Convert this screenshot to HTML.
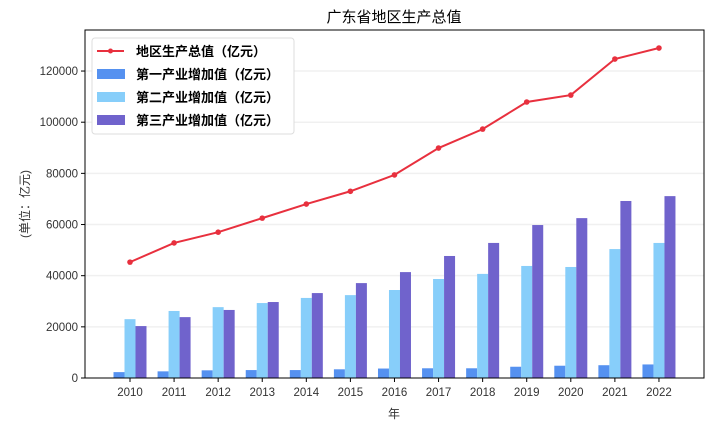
<!DOCTYPE html>
<html><head><meta charset="utf-8"><style>
body{margin:0;background:#fff;}
text{font-family:"Liberation Sans","Noto Sans CJK SC",sans-serif;}
</style></head><body>
<svg id="chart" width="714" height="433" xmlns="http://www.w3.org/2000/svg"></svg>
<script>
const years=[2010,2011,2012,2013,2014,2015,2016,2017,2018,2019,2020,2021,2022];
const gdp=[45300,52800,57000,62500,68000,73000,79400,89900,97300,107900,110600,124700,129000];
const primary=[2300,2600,3000,3100,3100,3400,3700,3800,3800,4400,4800,5000,5300];
const secondary=[23000,26200,27700,29300,31300,32400,34400,38700,40700,43800,43400,50400,52800];
const tertiary=[20300,23800,26600,29700,33200,37100,41400,47700,52800,59800,62500,69200,71100];
const yTicks=[0,20000,40000,60000,80000,100000,120000];
const NS="http://www.w3.org/2000/svg";
const svg=document.getElementById('chart');
const L=85,R=704,T=30,B=378;
const x=i=>130+i*44.08;
const y=v=>378-v*0.002558;
function mk(tag,a,txt){const e=document.createElementNS(NS,tag);for(const k in a)e.setAttribute(k,a[k]);if(txt!==undefined)e.textContent=txt;svg.appendChild(e);return e;}
yTicks.forEach(v=>{
 if(v>0){const g=mk('line',{x1:L,x2:R,y1:y(v),y2:y(v),stroke:'#f0f0f0','stroke-width':1.5});
 
 }
 const t=mk('line',{x1:L-4,x2:L,y1:y(v),y2:y(v),stroke:'#000'});
 
 
 const l=mk('text',{x:L-7,y:y(v)+4,'text-anchor':'end','font-size':11.5,fill:'#333'},v);
 
 
});
const series=[[primary,'#5591f0',-11],[secondary,'#87cefa',0],[tertiary,'#7063cc',11]];
years.forEach((yr,i)=>{
 series.forEach(([arr,c,off],k)=>{
  const b=mk('rect',{x:x(i)+off-5.5,y:y(arr[i]),width:11,height:B-y(arr[i]),fill:c});
  
  
 });
 const t=mk('line',{x1:x(i),x2:x(i),y1:B,y2:B+4,stroke:'#000'});
 
 
 const l=mk('text',{x:x(i),y:B+18,'text-anchor':'middle','font-size':11.5,fill:'#333'},yr);
 
 
});
const ln=mk('polyline',{points:gdp.map((v,i)=>x(i)+','+y(v)).join(' '),fill:'none',stroke:'#e8303e','stroke-width':2});


gdp.forEach((v,i)=>{const c=mk('circle',{cx:x(i),cy:y(v),r:2.8,fill:'#e8303e'});
 
 });
const ax=mk('rect',{x:L,y:T,width:R-L,height:B-T,fill:'none',stroke:'#000','stroke-width':1});


const ti=mk('text',{x:394,y:22,'text-anchor':'middle','font-size':15,fill:'#000'},'广东省地区生产总值');


const xl=mk('text',{x:394,y:418,'text-anchor':'middle','font-size':12,fill:'#333'},'年');


const yl=mk('text',{x:0,y:0,'text-anchor':'middle','font-size':12,fill:'#333',transform:'translate(29,204) rotate(-90)'},'(单位：亿元)');


const lg=mk('rect',{x:92,y:38,width:202,height:96,rx:3,fill:'#fff',stroke:'#ddd'});


const labels=['地区生产总值（亿元）','第一产业增加值（亿元）','第二产业增加值（亿元）','第三产业增加值（亿元）'];
const cols=['#e8303e','#5591f0','#87cefa','#7063cc'];
labels.forEach((s,i)=>{
 const yy=51+i*23;
 if(i===0){mk('line',{x1:97,x2:124,y1:yy,y2:yy,stroke:cols[0],'stroke-width':2});mk('circle',{cx:110.5,cy:yy,r:2.5,fill:cols[0]});}
 else mk('rect',{x:97,y:yy-5,width:28,height:10,fill:cols[i]});
 const t=mk('text',{x:136,y:yy+5,'font-size':13,'font-weight':'bold',fill:'#000'},s);
 
 
});
</script>
</body></html>
